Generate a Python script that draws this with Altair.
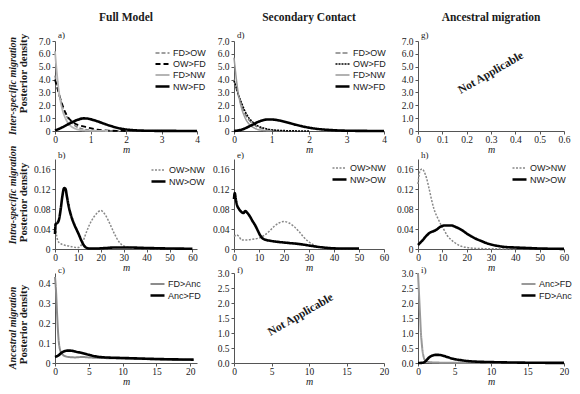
import altair as alt
import pandas as pd

# ---------------- data ----------------
# a) Full Model - inter-specific
a_fdow_m = [0, 0.05, 0.1, 0.15, 0.2, 0.3, 0.4, 0.5, 0.6, 0.8, 1.0, 1.3, 1.6, 2.0]
a_fdow_d = [4.3, 3.6, 3.0, 2.5, 2.0, 1.3, 0.85, 0.55, 0.35, 0.15, 0.06, 0.02, 0.01, 0.0]
a_owfd_m = [0, 0.05, 0.1, 0.2, 0.3, 0.4, 0.5, 0.6, 0.7, 0.8, 1.0, 1.2, 1.5, 2.0]
a_owfd_d = [4.0, 3.5, 3.0, 2.1, 1.4, 0.95, 0.7, 0.52, 0.43, 0.36, 0.22, 0.1, 0.03, 0.0]
a_fdnw_m = [0, 0.03, 0.06, 0.1, 0.15, 0.2, 0.3, 0.4, 0.5, 0.6, 0.8, 1.0, 1.5]
a_fdnw_d = [6.2, 5.2, 4.3, 3.3, 2.4, 1.75, 0.95, 0.5, 0.28, 0.15, 0.05, 0.02, 0.0]
a_nwfd_m = [0, 0.1, 0.2, 0.3, 0.4, 0.5, 0.6, 0.7, 0.8, 0.9, 1.0, 1.2, 1.4, 1.6, 1.8, 2.0, 2.3, 2.6, 3.0, 3.5, 4.0]
a_nwfd_d = [0.05, 0.15, 0.28, 0.42, 0.57, 0.71, 0.83, 0.93, 0.98, 0.97, 0.92, 0.75, 0.55, 0.37, 0.22, 0.12, 0.05, 0.02, 0.01, 0.005, 0.0]

# d) Secondary Contact - inter-specific
d_fdow_m = [0, 0.05, 0.1, 0.2, 0.3, 0.4, 0.5, 0.6, 0.8, 1.0, 1.3]
d_fdow_d = [4.0, 3.4, 2.9, 2.0, 1.3, 0.85, 0.55, 0.35, 0.15, 0.06, 0.01]
d_owfd_m = [0, 0.05, 0.1, 0.2, 0.3, 0.4, 0.5, 0.6, 0.8, 1.0, 1.2, 1.5, 2.0]
d_owfd_d = [3.9, 3.5, 3.0, 2.2, 1.5, 1.0, 0.7, 0.45, 0.22, 0.1, 0.05, 0.02, 0.0]
d_fdnw_m = [0, 0.03, 0.06, 0.1, 0.15, 0.2, 0.3, 0.4, 0.5, 0.6, 0.8, 1.0]
d_fdnw_d = [5.7, 4.9, 4.1, 3.2, 2.4, 1.8, 1.0, 0.55, 0.3, 0.15, 0.04, 0.01]
d_nwfd_m = [0, 0.2, 0.4, 0.5, 0.6, 0.7, 0.8, 0.9, 1.0, 1.1, 1.2, 1.4, 1.6, 1.8, 2.0, 2.2, 2.5, 2.8, 3.2, 3.6, 4.0]
d_nwfd_d = [0.0, 0.1, 0.35, 0.5, 0.65, 0.77, 0.86, 0.9, 0.9, 0.87, 0.82, 0.68, 0.52, 0.38, 0.26, 0.17, 0.09, 0.04, 0.015, 0.005, 0.0]

# b) Full Model - intra-specific
b_ownw_m = [0, 1, 2, 4, 6, 8, 10, 12, 13, 14, 15, 16, 18, 20, 22, 24, 26, 28, 30, 33, 36, 40, 50, 60]
b_ownw_d = [0.05, 0.02, 0.012, 0.008, 0.006, 0.004, 0.003, 0.012, 0.025, 0.037, 0.048, 0.057, 0.07, 0.077, 0.068, 0.05, 0.03, 0.014, 0.006, 0.003, 0.002, 0.001, 0.0005, 0.0]
b_nwow_m = [0, 0.3, 1, 1.8, 2.5, 3.2, 4, 4.6, 5.2, 6, 6.8, 7.5, 8.5, 9.5, 10.5, 11.5, 12.5, 13.5, 15, 18, 22, 26, 32, 40, 50, 60]
b_nwow_d = [0.03, 0.05, 0.052, 0.06, 0.08, 0.105, 0.122, 0.12, 0.105, 0.085, 0.07, 0.06, 0.048, 0.038, 0.028, 0.017, 0.008, 0.003, 0.001, 0.001, 0.002, 0.003, 0.003, 0.002, 0.001, 0.0005]

# e) Secondary Contact - intra-specific
e_ownw_m = [0, 1, 2, 3, 5, 8, 10, 12, 14, 16, 18, 20, 22, 24, 26, 28, 30, 33, 36, 40, 45, 50]
e_ownw_d = [0.025, 0.028, 0.025, 0.018, 0.018, 0.02, 0.022, 0.027, 0.035, 0.045, 0.052, 0.055, 0.052, 0.045, 0.035, 0.023, 0.014, 0.006, 0.003, 0.001, 0.0005, 0.0]
e_nwow_m = [0, 0.3, 0.7, 1.2, 2, 3, 3.8, 4.5, 5.2, 6.4, 7.4, 8.4, 9.4, 10.4, 11.5, 13, 15, 18, 22, 26, 30, 34, 38, 42, 50]
e_nwow_d = [0.1, 0.112, 0.1, 0.088, 0.08, 0.074, 0.072, 0.076, 0.073, 0.065, 0.056, 0.048, 0.038, 0.028, 0.021, 0.018, 0.016, 0.014, 0.012, 0.01, 0.007, 0.004, 0.002, 0.001, 0.001]

# h) Ancestral migration - intra-specific
h_ownw_m = [0, 0.5, 1, 1.7, 2.5, 3.5, 4.5, 5.5, 6.5, 7.5, 8.5, 9.5, 10.5, 12, 13.5, 15, 17, 20, 25, 30, 40]
h_ownw_d = [0.13, 0.15, 0.158, 0.16, 0.155, 0.142, 0.122, 0.1, 0.081, 0.068, 0.058, 0.048, 0.04, 0.027, 0.019, 0.013, 0.007, 0.003, 0.001, 0.0005, 0.0]
h_nwow_m = [0, 1, 2, 3, 4, 5, 6, 7, 8, 9, 10, 11, 12, 13, 14, 15, 16, 18, 20, 22, 24, 26, 28, 30, 33, 36, 40, 45, 50, 55, 60]
h_nwow_d = [0.008, 0.013, 0.018, 0.024, 0.029, 0.033, 0.035, 0.037, 0.04, 0.044, 0.046, 0.047, 0.047, 0.047, 0.047, 0.045, 0.043, 0.038, 0.031, 0.025, 0.02, 0.016, 0.012, 0.009, 0.006, 0.004, 0.003, 0.002, 0.001, 0.0005, 0.0003]

# c) Full Model - ancestral
c_fdanc_m = [0, 0.15, 0.3, 0.5, 0.8, 1.2, 1.6, 2, 3, 4, 5, 6, 8, 10, 12, 15, 18, 20.5]
c_fdanc_d = [0.43, 0.36, 0.25, 0.13, 0.06, 0.04, 0.033, 0.03, 0.028, 0.03, 0.028, 0.026, 0.024, 0.023, 0.021, 0.018, 0.016, 0.015]
c_ancfd_m = [0, 0.5, 1, 1.5, 2, 2.5, 3, 4, 5, 6, 7, 8, 10, 12, 15, 18, 20.5]
c_ancfd_d = [0.03, 0.038, 0.052, 0.06, 0.062, 0.061, 0.057, 0.05, 0.041, 0.033, 0.029, 0.027, 0.025, 0.023, 0.02, 0.018, 0.017]

# i) Ancestral migration - ancestral
i_ancfd_m = [0, 0.1, 0.2, 0.3, 0.4, 0.5, 0.6, 0.8, 1.0, 1.5, 2, 3, 5, 8, 12, 20]
i_ancfd_d = [3.0, 2.5, 2.0, 1.5, 1.0, 0.7, 0.45, 0.18, 0.08, 0.03, 0.02, 0.012, 0.008, 0.005, 0.003, 0.0]
i_fdanc_m = [0, 0.5, 0.8, 1.0, 1.3, 1.6, 2.0, 2.4, 2.8, 3.2, 4, 4.8, 6, 7, 8, 10, 12, 15, 18, 20]
i_fdanc_d = [0.0, 0.005, 0.02, 0.05, 0.13, 0.2, 0.25, 0.27, 0.27, 0.26, 0.2, 0.14, 0.09, 0.06, 0.045, 0.03, 0.02, 0.01, 0.005, 0.003]

col_titles = ["Full Model", "Secondary Contact", "Ancestral migration"]
row_titles = ["Inter-specific migration", "Intra-specific migration", "Ancestral migration"]
letters = ["a)", "d)", "g)", "b)", "e)", "h)", "c)", "f)", "i)"]

# ---------------- styling ----------------
SERIF = "Liberation Serif"
SANS = "Liberation Sans"
AX = "#555555"
TXT = "#1a1a1a"
BLACK = "#000000"
SOLID = [1, 0]
LEG_SYMBOL = "M-1.4,0H1.4"


def zero_fmt(fmt):
    return f"datum.value == 0 ? '0' : format(datum.value, '{fmt}')"


def plain_fmt(fmt):
    return f"format(datum.value, '{fmt}')"


def panel(series, xdom, xvals, xlab, ydom, yvals, ylab, w, h, letter, letter_y,
          legend_xy=None, ytitle_y=None, row_label=None, row_y=None,
          col_title=None, na_at=None):
    xaxis = alt.Axis(values=xvals, labelExpr=xlab, title="m", titleFont=SERIF,
                     titleFontStyle="italic", titleFontWeight="normal", titleFontSize=10,
                     titlePadding=1, titleColor=TXT, labelFont=SERIF, labelFontSize=9.5,
                     labelColor=TXT, labelPadding=0, labelFlush=False, labelOverlap=False,
                     tickSize=3, domainColor=AX, tickColor=AX, grid=False)
    ycommon = dict(values=yvals, labelExpr=ylab, labelFont=SERIF, labelFontSize=9.5,
                   labelColor=TXT, labelPadding=2, labelFlush=False, labelOverlap=False,
                   tickSize=3, domainColor=AX, tickColor=AX, grid=False)
    if ytitle_y is not None:
        yaxis = alt.Axis(title="Posterior density", titleFont=SERIF, titleFontWeight="bold",
                         titleFontSize=11, titleColor=TXT, titleX=-27, titleY=ytitle_y,
                         titleAngle=270, **ycommon)
    else:
        yaxis = alt.Axis(title=None, minExtent=23, titlePadding=0, **ycommon)
    xs = alt.Scale(domain=xdom, nice=False, zero=False)
    ys = alt.Scale(domain=ydom, nice=False, zero=False)

    layers = []
    if series:
        rows = []
        for name, ms, ds, _c, _d, _w in series:
            for mv, dv in zip(ms, ds):
                rows.append({"m": mv, "d": dv, "s": name})
        df = pd.DataFrame(rows)
        names = [s[0] for s in series]
        leg = alt.Legend(orient="none", legendX=legend_xy[0], legendY=legend_xy[1], title=None,
                         labelFont=SANS, labelFontSize=9, labelColor=TXT, symbolSize=100,
                         symbolType=LEG_SYMBOL, labelOffset=4, rowPadding=0, padding=0)
        lines = alt.Chart(df).mark_line(interpolate="monotone").encode(
            x=alt.X("m:Q", scale=xs, axis=xaxis),
            y=alt.Y("d:Q", scale=ys, axis=yaxis),
            color=alt.Color("s:N", scale=alt.Scale(domain=names, range=[s[3] for s in series]), legend=leg),
            strokeDash=alt.StrokeDash("s:N", scale=alt.Scale(domain=names, range=[s[4] for s in series]), legend=leg),
            strokeWidth=alt.StrokeWidth("s:N", scale=alt.Scale(type="ordinal", domain=names, range=[s[5] for s in series]), legend=leg),
        )
        layers.append(lines)
    if na_at is not None:
        df_na = pd.DataFrame({"m": [na_at[0]], "d": [na_at[1]], "t": ["Not Applicable"]})
        layers.append(alt.Chart(df_na).mark_text(angle=330, font=SERIF, fontWeight="bold",
                                                 fontSize=11.5, color=TXT).encode(
            x=alt.X("m:Q", scale=xs, axis=xaxis), y=alt.Y("d:Q", scale=ys, axis=yaxis), text="t:N"))
    layers.append(alt.Chart(pd.DataFrame({"t": [letter]})).mark_text(
        align="left", baseline="middle", font=SERIF, fontSize=9, color=TXT).encode(
        x=alt.value(3), y=alt.value(letter_y), text="t:N"))
    if row_label is not None:
        layers.append(alt.Chart(pd.DataFrame({"t": [row_label]})).mark_text(
            angle=270, align="center", baseline="middle", font=SERIF, fontStyle="italic",
            fontWeight="bold", fontSize=10, color=TXT).encode(
            x=alt.value(-42), y=alt.value(row_y), text="t:N"))
    ch = alt.layer(*layers).properties(width=w, height=h)
    if col_title is not None:
        ch = ch.properties(title=alt.TitleParams(text=col_title, font=SERIF, fontSize=11.5,
                                                 fontWeight="bold", color=TXT, anchor="middle",
                                                 frame="group", offset=8))
    return ch


W1, W2, W3 = 142, 150, 146
H = 90
I4 = [0, 1, 2, 3, 4]
I60 = [0, 10, 20, 30, 40, 50, 60]
I20 = [0, 5, 10, 15, 20]
Y7 = [0, 1, 2, 3, 4, 5, 6, 7]
Y16 = [0, 0.04, 0.08, 0.12, 0.16]
Y3 = [0, 0.5, 1, 1.5, 2, 2.5, 3]
D = plain_fmt("d")

pa = panel([
    ("FD>OW", a_fdow_m, a_fdow_d, "#808080", [4, 2], 1.5),
    ("OW>FD", a_owfd_m, a_owfd_d, BLACK, [5, 3], 1.8),
    ("FD>NW", a_fdnw_m, a_fdnw_d, "#b5b5b5", SOLID, 1.8),
    ("NW>FD", a_nwfd_m, a_nwfd_d, BLACK, SOLID, 2.6),
], [0, 4], I4, D, [0, 7], Y7, zero_fmt(".1f"), W1, H, letters[0], -6,
    legend_xy=(101, 6), ytitle_y=32, row_label=row_titles[0], row_y=45, col_title=col_titles[0])

pd_ = panel([
    ("FD>OW", d_fdow_m, d_fdow_d, "#808080", [5, 2], 1.5),
    ("OW>FD", d_owfd_m, d_owfd_d, BLACK, [2, 1], 1.5),
    ("FD>NW", d_fdnw_m, d_fdnw_d, "#999999", SOLID, 1.5),
    ("NW>FD", d_nwfd_m, d_nwfd_d, BLACK, SOLID, 2.6),
], [0, 4], I4, D, [0, 7], Y7, zero_fmt(".1f"), W2, H, letters[1], -6,
    legend_xy=(102, 6), col_title=col_titles[1])

pg = panel([], [0, 0.6], [0, 0.1, 0.2, 0.3, 0.4, 0.5, 0.6], zero_fmt(".1f"), [0, 7], Y7,
           zero_fmt(".1f"), W3, H, letters[2], -6, col_title=col_titles[2], na_at=(0.3, 4.5))

pb = panel([
    ("OW>NW", b_ownw_m, b_ownw_d, "#888888", [2, 1.5], 1.5),
    ("NW>OW", b_nwow_m, b_nwow_d, BLACK, SOLID, 2.6),
], [0, 62], I60, D, [0, 0.18], Y16, zero_fmt(".2f"), W1, H, letters[3], -4,
    legend_xy=(97, 5), ytitle_y=43, row_label=row_titles[1], row_y=36)

pe = panel([
    ("OW>NW", e_ownw_m, e_ownw_d, "#888888", [2, 1.5], 1.5),
    ("NW>OW", e_nwow_m, e_nwow_d, BLACK, SOLID, 2.6),
], [0, 60], I60, D, [0, 0.18], Y16, zero_fmt(".2f"), W2, H, letters[4], -4,
    legend_xy=(99, 3))

ph = panel([
    ("OW>NW", h_ownw_m, h_ownw_d, "#888888", [2, 1.5], 1.5),
    ("NW>OW", h_nwow_m, h_nwow_d, BLACK, SOLID, 2.6),
], [0, 60], I60, D, [0, 0.18], Y16, zero_fmt(".2f"), W3, H, letters[5], -4,
    legend_xy=(95, 3))

pc = panel([
    ("FD>Anc", c_fdanc_m, c_fdanc_d, "#8c8c8c", SOLID, 2.0),
    ("Anc>FD", c_ancfd_m, c_ancfd_d, BLACK, SOLID, 2.6),
], [0, 21], I20, D, [0, 0.45], [0, 0.1, 0.2, 0.3, 0.4], zero_fmt(".1f"), W1, H, letters[6], -3,
    legend_xy=(96, 5), ytitle_y=51, row_label=row_titles[2], row_y=55)

pf = panel([], [0, 20], I20, D, [0, 3], Y3, plain_fmt(".1f"), W2, H, letters[7], -3,
           na_at=(8.9, 1.6))

pi = panel([
    ("Anc>FD", i_ancfd_m, i_ancfd_d, "#999999", SOLID, 2.0),
    ("FD>Anc", i_fdanc_m, i_fdanc_d, BLACK, SOLID, 2.6),
], [0, 20], I20, D, [0, 3], Y3, plain_fmt(".1f"), W3, H, letters[8], -3,
    legend_xy=(104, 5))

chart = alt.concat(pa, pd_, pg, pb, pe, ph, pc, pf, pi, columns=3,
                   spacing={"row": -10, "column": 5}, align="each").resolve_scale(
    color="independent", strokeDash="independent", strokeWidth="independent"
).properties(
    padding={"left": 0, "top": 3, "right": 0, "bottom": 0}, background="white"
).configure_view(stroke=None)

chart.save("out.html", embed_options={"renderer": "svg", "actions": False})
